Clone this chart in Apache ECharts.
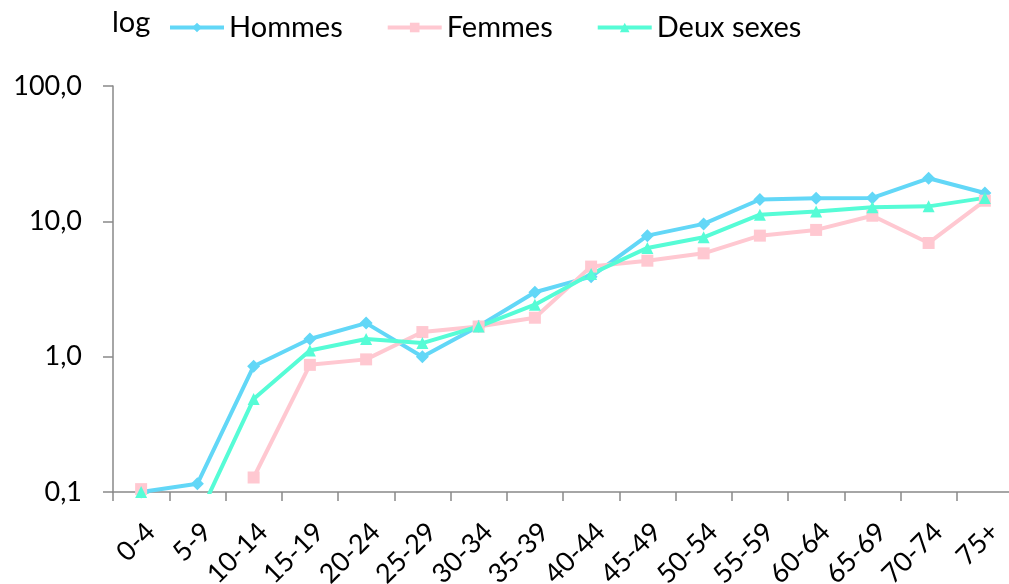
<!DOCTYPE html>
<html>
<head>
<meta charset="utf-8">
<script src="https://cdn.jsdelivr.net/npm/echarts@6/dist/echarts.min.js"></script>
<style>
  html, body { margin: 0; padding: 0; background: #fff; }
  #chart { width: 1009px; height: 584px; }
</style>
</head>
<body>
<div id="chart"></div>
<script>
// tranches d'âge
const ageGroups = ['0-4', '5-9', '10-14', '15-19', '20-24', '25-29', '30-34', '35-39',
  '40-44', '45-49', '50-54', '55-59', '60-64', '65-69', '70-74', '75+'];

// valeurs (échelle log)
const hommes = [0.1, 0.115, 0.85, 1.35, 1.77, 1.0, 1.68, 2.99, 3.9, 7.84, 9.57, 14.5, 14.8, 14.9, 20.8, 16.2];
const femmes = [0.105, null, 0.128, 0.87, 0.955, 1.52, 1.67, 1.94, 4.63, 5.12, 5.8, 7.84, 8.64, 11.0, 6.92, 14.2];
const deuxSexes = [0.1, 0.063, 0.486, 1.11, 1.35, 1.26, 1.67, 2.42, 4.08, 6.36, 7.62, 11.2, 11.8, 12.7, 12.9, 14.9];

const FONT = 'Lato';
const AXIS_COLOR = '#898989';

const chart = echarts.init(document.getElementById('chart'));

function lineSeries(name, data, color, symbol, size) {
  return {
    name: name,
    type: 'line',
    data: data,
    symbol: symbol,
    symbolSize: size,
    showAllSymbol: true,
    connectNulls: false,
    lineStyle: { color: color, width: 4 },
    itemStyle: { color: color },
    emphasis: { disabled: true }
  };
}

chart.setOption({
  animation: false,
  graphic: [{
    type: 'text',
    left: 112,
    top: 8,
    style: { text: 'log', fontSize: 29, fontFamily: FONT, fill: '#000' }
  }],
  legend: {
    left: 163,
    top: 8,
    itemWidth: 54,
    itemHeight: 12,
    itemGap: 43,
    lineStyle: { width: 4 },
    textStyle: { fontSize: 29, fontFamily: FONT, color: '#000' },
    data: ['Hommes', 'Femmes', 'Deux sexes']
  },
  grid: { left: 113, top: 86, height: 406, right: -4, outerBoundsMode: 'none', containLabel: false },
  xAxis: {
    type: 'category',
    data: ageGroups,
    boundaryGap: true,
    axisLine: { lineStyle: { color: AXIS_COLOR, width: 1.5 } },
    axisTick: { show: true, length: 9, interval: 0, lineStyle: { color: AXIS_COLOR, width: 1.5 } },
    axisLabel: {
      interval: 0,
      rotate: 45,
      margin: 26,
      verticalAlign: 'top',
      fontSize: 27,
      fontFamily: FONT,
      color: '#000'
    },
    splitLine: { show: false }
  },
  yAxis: {
    type: 'log',
    logBase: 10,
    min: 0.1,
    max: 100,
    axisLine: { show: true, lineStyle: { color: AXIS_COLOR, width: 1.5 } },
    axisTick: { show: true, length: 10, lineStyle: { color: AXIS_COLOR, width: 1.5 } },
    axisLabel: {
      margin: 31,
      fontSize: 27,
      fontFamily: FONT,
      color: '#000',
      formatter: function (v) { return v.toFixed(1).replace('.', ','); }
    },
    splitLine: { show: false }
  },
  series: [
    lineSeries('Hommes', hommes, '#62D7F7', 'diamond', 13),
    lineSeries('Femmes', femmes, '#FFC8D1', 'rect', 12),
    lineSeries('Deux sexes', deuxSexes, '#56FCD6', 'triangle', 12)
  ]
});
</script>
</body>
</html>
